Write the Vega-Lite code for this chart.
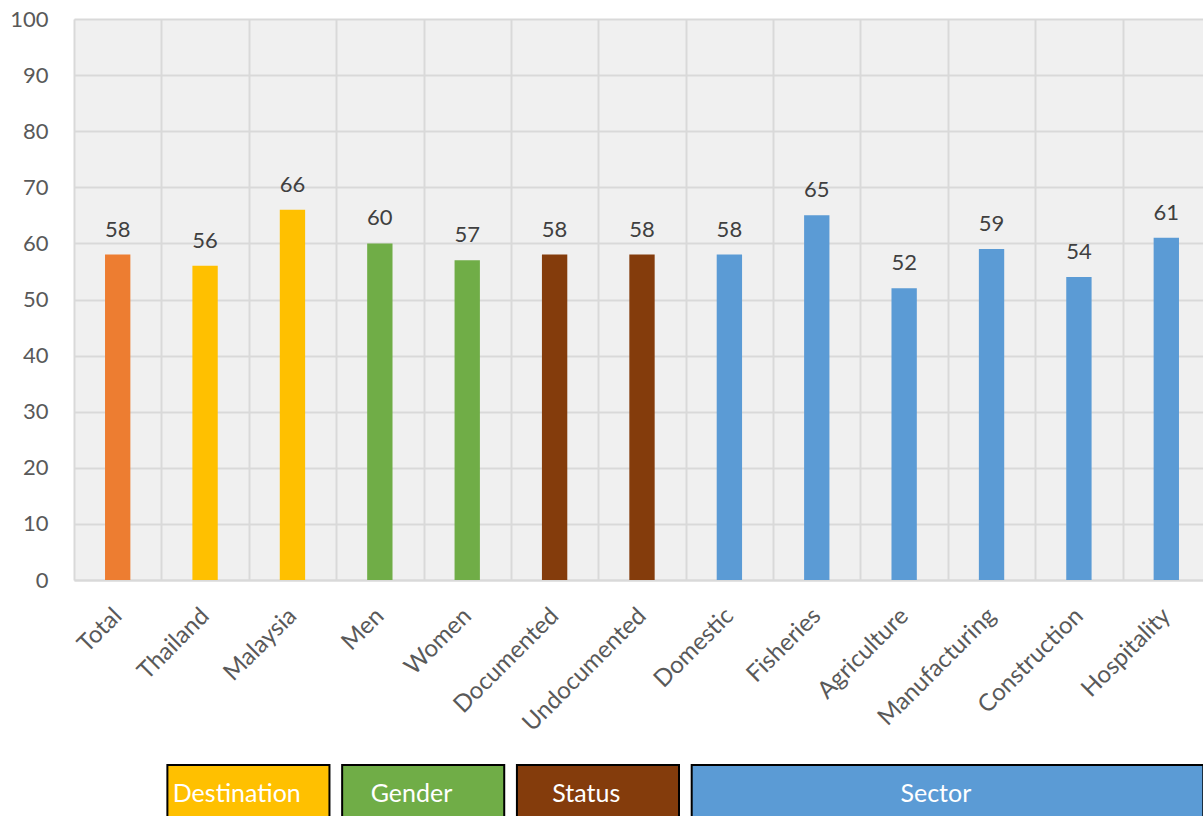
{
  "$schema": "https://vega.github.io/schema/vega-lite/v6.json",
  "padding": {"left": 9, "top": 8, "right": 0, "bottom": 0},
  "background": "white",
  "datasets": {
    "bars": [
      {"category": "Total", "group": "Total", "value": 58},
      {"category": "Thailand", "group": "Destination", "value": 56},
      {"category": "Malaysia", "group": "Destination", "value": 66},
      {"category": "Men", "group": "Gender", "value": 60},
      {"category": "Women", "group": "Gender", "value": 57},
      {"category": "Documented", "group": "Status", "value": 58},
      {"category": "Undocumented", "group": "Status", "value": 58},
      {"category": "Domestic", "group": "Sector", "value": 58},
      {"category": "Fisheries", "group": "Sector", "value": 65},
      {"category": "Agriculture", "group": "Sector", "value": 52},
      {"category": "Manufacturing", "group": "Sector", "value": 59},
      {"category": "Construction", "group": "Sector", "value": 54},
      {"category": "Hospitality", "group": "Sector", "value": 61}
    ],
    "groups": [
      {"group": "Destination", "from": "Thailand", "to": "Malaysia", "mid": "Malaysia"},
      {"group": "Gender", "from": "Men", "to": "Women", "mid": "Women"},
      {"group": "Status", "from": "Documented", "to": "Undocumented", "mid": "Undocumented"},
      {"group": "Sector", "from": "Domestic", "to": "Hospitality", "mid": "Manufacturing"}
    ]
  },
  "config": {
    "font": "Lato",
    "view": {"stroke": null}
  },
  "vconcat": [
    {
      "width": 1136,
      "height": 561,
      "view": {"fill": "#f0f0f0", "stroke": null},
      "data": {"name": "bars"},
      "encoding": {
        "x": {
          "field": "category",
          "type": "nominal",
          "sort": null,
          "scale": {
            "domain": ["Total", "Thailand", "Malaysia", "Men", "Women", "Documented", "Undocumented", "Domestic", "Fisheries", "Agriculture", "Manufacturing", "Construction", "Hospitality"],
            "paddingInner": 0,
            "paddingOuter": 0
          },
          "axis": {
            "title": null,
            "labelAngle": -45,
            "labelAlign": "right",
            "labelBaseline": "middle",
            "labelFontSize": 24,
            "labelColor": "#595959",
            "labelPadding": 32,
            "ticks": false,
            "tickSize": 0,
            "tickBand": "extent",
            "grid": true,
            "gridColor": "#d9d9d9",
            "gridWidth": 2,
            "domain": true,
            "domainColor": "#d9d9d9",
            "domainWidth": 2
          }
        },
        "y": {
          "field": "value",
          "type": "quantitative",
          "scale": {"domain": [0, 100]},
          "axis": {
            "title": null,
            "values": [0, 10, 20, 30, 40, 50, 60, 70, 80, 90, 100],
            "grid": true,
            "gridColor": "#d9d9d9",
            "gridWidth": 2,
            "domain": false,
            "ticks": false,
            "tickSize": 0,
            "labelPadding": 26,
            "labelFontSize": 22,
            "labelColor": "#595959"
          }
        }
      },
      "layer": [
        {
          "mark": {"type": "bar", "width": {"band": 0.29}},
          "encoding": {
            "color": {
              "field": "group",
              "type": "nominal",
              "scale": {
                "domain": ["Total", "Destination", "Gender", "Status", "Sector"],
                "range": ["#ED7D31", "#FFC000", "#70AD47", "#843C0C", "#5B9BD5"]
              },
              "legend": null
            }
          }
        },
        {
          "mark": {"type": "text", "baseline": "alphabetic", "dy": -18, "fontSize": 22, "color": "#404040"},
          "encoding": {"text": {"field": "value", "type": "quantitative"}}
        }
      ]
    },
    {
      "width": 1136,
      "height": 58,
      "data": {"name": "groups"},
      "layer": [
        {
          "mark": {"type": "rect", "stroke": "#000000", "strokeWidth": 2, "xOffset": 6, "x2Offset": 37},
          "encoding": {
            "x": {
              "field": "from",
              "type": "nominal",
              "bandPosition": 0,
              "scale": {
                "domain": ["Total", "Thailand", "Malaysia", "Men", "Women", "Documented", "Undocumented", "Domestic", "Fisheries", "Agriculture", "Manufacturing", "Construction", "Hospitality"],
                "paddingInner": 0,
                "paddingOuter": 0
              },
              "axis": null
            },
            "x2": {"field": "to"},
            "color": {
              "field": "group",
              "type": "nominal",
              "scale": {
                "domain": ["Total", "Destination", "Gender", "Status", "Sector"],
                "range": ["#ED7D31", "#FFC000", "#70AD47", "#843C0C", "#5B9BD5"]
              },
              "legend": null
            }
          }
        },
        {
          "mark": {"type": "text", "color": "white", "fontSize": 25, "dx": -12},
          "encoding": {
            "x": {"field": "mid", "type": "nominal", "bandPosition": 0},
            "text": {"field": "group"}
          }
        }
      ]
    }
  ],
  "spacing": 28
}
